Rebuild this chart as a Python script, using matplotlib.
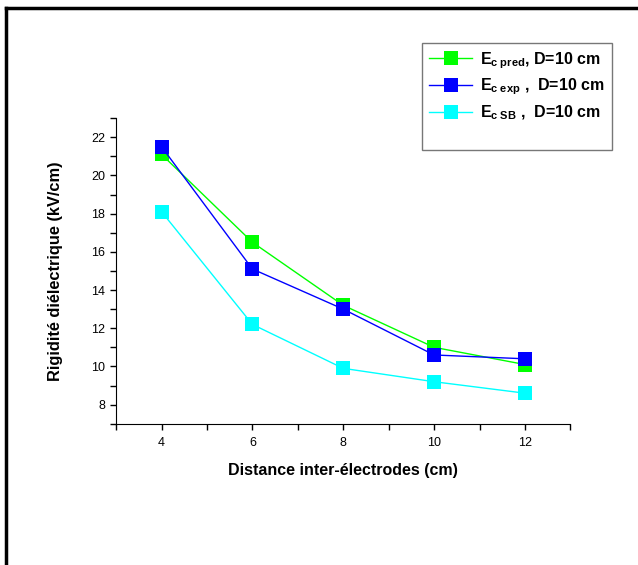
import numpy as np
from matplotlib import pyplot as plt
from matplotlib.lines import Line2D
from matplotlib.ticker import MultipleLocator

plt.rcParams['font.family'] = ['Liberation Sans', 'DejaVu Sans']
plt.rcParams['mathtext.fontset'] = 'custom'
plt.rcParams['mathtext.rm'] = 'Liberation Sans:bold'
plt.rcParams['mathtext.it'] = 'Liberation Sans:bold'
plt.rcParams['mathtext.bf'] = 'Liberation Sans:bold'

distance = [4, 6, 8, 10, 12]  # cm
ec_pred = [21.1, 16.5, 13.2, 11.0, 10.1]
ec_exp = [21.5, 15.1, 13.0, 10.6, 10.4]
ec_sb = [18.1, 12.2, 9.9, 9.2, 8.6]

labels = [r'$\mathrm{E_{c\;pred}}$, D=10 cm',
          r'$\mathrm{E_{c\;exp}}$ ,  D=10 cm',
          r'$\mathrm{E_{c\;SB}}$ ,  D=10 cm']
colors = ['#00ff00', '#0000ff', '#00ffff']

fig = plt.figure(figsize=(6.38, 5.65), dpi=100)
ax = fig.add_axes([0.182, 0.250, 0.712, 0.541])

for y, c, lab in zip([ec_pred, ec_exp, ec_sb], colors, labels):
  ax.plot(distance, y, '-s', color=c, lw=1, markersize=9.5, markeredgewidth=0, label=lab)

ax.set_xlim(3, 13)
ax.set_ylim(7, 23)
ax.xaxis.set_major_locator(MultipleLocator(2))
ax.xaxis.set_minor_locator(MultipleLocator(1))
ax.yaxis.set_major_locator(MultipleLocator(2))
ax.yaxis.set_minor_locator(MultipleLocator(1))
ax.set_xticks([4, 6, 8, 10, 12])
ax.set_yticks([8, 10, 12, 14, 16, 18, 20, 22])
ax.tick_params(which='both', direction='out', length=4.5, width=1, labelsize=9, colors='k')
ax.tick_params(axis='x', pad=5)
ax.spines['top'].set_visible(False)
ax.spines['right'].set_visible(False)
ax.set_xlabel('Distance inter-électrodes (cm)', fontsize=11.5, fontweight='bold', labelpad=10)
ax.set_ylabel('Rigidité diélectrique (kV/cm)', fontsize=11.8, fontweight='bold', labelpad=20)

handles, labs = ax.get_legend_handles_labels()
handles.append(Line2D([], [], color='none'))
labs.append(' ')
leg = fig.legend(handles, labs, loc='upper left', bbox_to_anchor=(422/638, 1-43/565),
                 fontsize=11.5, frameon=True, fancybox=False, handlelength=2.7,
                 labelspacing=0.38, borderpad=0.45, handletextpad=0.5, borderaxespad=0)
leg.get_frame().set_edgecolor('#555555')
leg.get_frame().set_linewidth(1)
for t in leg.get_texts():
  t.set_fontweight('bold')

# outer frame (cut at right and bottom)
fig.add_artist(Line2D([6/638, 1], [1-8/565, 1-8/565], color='k', lw=2.5, transform=fig.transFigure))
fig.add_artist(Line2D([6/638, 6/638], [0, 1-8/565], color='k', lw=2.5, transform=fig.transFigure))

fig.savefig('out.png', dpi=100)
